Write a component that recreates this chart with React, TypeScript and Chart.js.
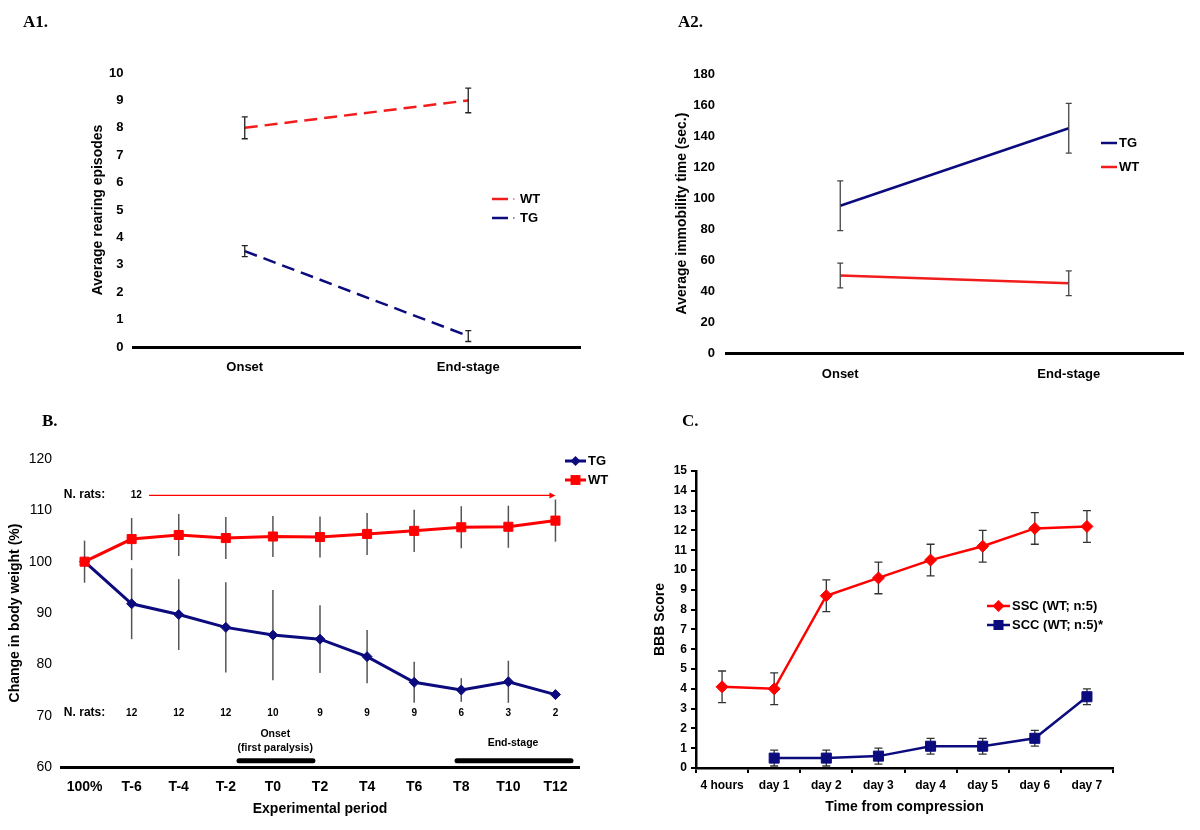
import React, { useEffect, useRef } from 'react';
import { Chart, registerables } from 'chart.js';

Chart.register(...registerables);

const FONT = "'Liberation Sans', Arial, Helvetica, sans-serif";
Chart.defaults.font.family = FONT;
Chart.defaults.color = '#000';

// ---------------- Data ----------------
// A1: rearing episodes
const a1Categories = ['Onset', 'End-stage'];
const a1WT = [8, 9];
const a1WTErr = [0.4, 0.45];
const a1TG = [3.5, 0.4];
const a1TGErr = [0.2, 0.2];

// A2: immobility time
const a2Categories = ['Onset', 'End-stage'];
const a2TG = [95, 145];
const a2TGErr = [16, 16];
const a2WT = [50, 45];
const a2WTErr = [8, 8];

// B: body weight
const bCategories = ['100%', 'T-6', 'T-4', 'T-2', 'T0', 'T2', 'T4', 'T6', 'T8', 'T10', 'T12'];
const bTG = [100, 91.8, 89.7, 87.2, 85.7, 84.9, 81.5, 76.5, 75.0, 76.6, 74.1];
const bTGErr = [0, 6.9, 6.9, 8.8, 8.8, 6.6, 5.2, 4.0, 2.3, 4.1, 0];
const bWT = [100, 104.4, 105.2, 104.6, 104.9, 104.8, 105.4, 106.0, 106.7, 106.8, 108.0];
const bWTErr = [4.1, 4.1, 4.1, 4.1, 4.0, 4.0, 4.1, 4.1, 4.1, 4.1, 4.1];
const bNRatsTG = [12, 12, 12, 10, 9, 9, 9, 6, 3, 2];
const bNRatsWT = 12;

// C: BBB score
const cCategories = ['4 hours', 'day 1', 'day 2', 'day 3', 'day 4', 'day 5', 'day 6', 'day 7'];
const cSSC = [4.1, 4.0, 8.7, 9.6, 10.5, 11.2, 12.1, 12.2];
const cSSCErr = [0.8, 0.8, 0.8, 0.8, 0.8, 0.8, 0.8, 0.8];
const cSCC = [null, 0.5, 0.5, 0.6, 1.1, 1.1, 1.5, 3.6];
const cSCCErr = [null, 0.4, 0.4, 0.4, 0.4, 0.4, 0.4, 0.4];

// ---------------- Styles ----------------
const RED = '#ff0000';
const A_RED = '#f21c1c';
const NAVY = '#0b0b7e';

// ---------------- Plugins ----------------
type ErrStyle = { color: string; width: number; cap: number; before: boolean };
function errorBars(errs: (number | null)[][], st: ErrStyle) {
  const draw = (chart: any) => {
    const ctx = chart.ctx;
    const ys = chart.scales.y;
    ctx.save();
    ctx.strokeStyle = st.color;
    ctx.lineWidth = st.width;
    chart.data.datasets.forEach((ds: any, di: number) => {
      const e = errs[di];
      if (!e) return;
      const meta = chart.getDatasetMeta(di);
      meta.data.forEach((pt: any, i: number) => {
        const v = ds.data[i];
        const err = e[i];
        if (v == null || !err) return;
        const x = pt.x;
        const y1 = ys.getPixelForValue(v - err);
        const y2 = ys.getPixelForValue(v + err);
        ctx.beginPath();
        ctx.moveTo(x, y1);
        ctx.lineTo(x, y2);
        if (st.cap) {
          ctx.moveTo(x - st.cap, y1);
          ctx.lineTo(x + st.cap, y1);
          ctx.moveTo(x - st.cap, y2);
          ctx.lineTo(x + st.cap, y2);
        }
        ctx.stroke();
      });
    });
    ctx.restore();
  };
  const p: any = { id: 'errorBars' };
  if (st.before) p.beforeDatasetsDraw = draw;
  else p.afterDatasetsDraw = draw;
  return p;
}

function drawMarker(ctx: CanvasRenderingContext2D, style: string, x: number, y: number, r: number, color: string) {
  ctx.fillStyle = color;
  ctx.beginPath();
  if (style === 'rectRot') {
    ctx.moveTo(x - r, y);
    ctx.lineTo(x, y - r);
    ctx.lineTo(x + r, y);
    ctx.lineTo(x, y + r);
    ctx.closePath();
  } else {
    const s = r * Math.SQRT1_2;
    ctx.rect(x - s, y - s, 2 * s, 2 * s);
  }
  ctx.fill();
}

type LegItem = { ds: number; x1: number; x2: number; tx: number; y: number; dot?: boolean; markerR?: number };
function customLegend(items: LegItem[], font: string) {
  return {
    id: 'customLegend',
    afterDraw(chart: any) {
      const ctx = chart.ctx as CanvasRenderingContext2D;
      items.forEach((it) => {
        const ds = chart.data.datasets[it.ds];
        ctx.save();
        ctx.strokeStyle = ds.borderColor;
        ctx.lineWidth = ds.borderWidth;
        ctx.beginPath();
        ctx.moveTo(it.x1, it.y);
        ctx.lineTo(it.x2, it.y);
        ctx.stroke();
        if (it.dot) {
          ctx.lineWidth = 1;
          ctx.beginPath();
          ctx.moveTo(it.x2 + 5, it.y);
          ctx.lineTo(it.x2 + 6.5, it.y);
          ctx.stroke();
        }
        if (it.markerR) drawMarker(ctx, ds.pointStyle, (it.x1 + it.x2) / 2, it.y, it.markerR, ds.borderColor);
        ctx.fillStyle = '#000';
        ctx.font = font;
        ctx.textAlign = 'left';
        ctx.textBaseline = 'middle';
        ctx.fillText(ds.label, it.tx, it.y);
        ctx.restore();
      });
    },
  };
}

const bAnnotations = {
  id: 'bAnnotations',
  afterDraw(chart: any) {
    const ctx = chart.ctx as CanvasRenderingContext2D;
    const xs = chart.scales.x;
    const ys = chart.scales.y;
    const X = (v: number) => xs.getPixelForValue(v);
    const Y = (v: number) => ys.getPixelForValue(v);
    ctx.save();
    ctx.fillStyle = '#000';
    ctx.textAlign = 'center';
    ctx.textBaseline = 'middle';
    ctx.font = `bold 12px ${FONT}`;
    ctx.fillText('N. rats:', X(0), Y(113));
    ctx.fillText('N. rats:', X(0), Y(70.5));
    ctx.font = `bold 10px ${FONT}`;
    ctx.fillText(String(bNRatsWT), X(1.1), Y(113));
    bNRatsTG.forEach((n, i) => ctx.fillText(String(n), X(i + 1), Y(70.5)));

    // red arrow for WT count
    const ay = Y(112.9);
    const ax1 = X(1.37);
    const ax2 = X(10);
    ctx.strokeStyle = RED;
    ctx.fillStyle = RED;
    ctx.lineWidth = 1.3;
    ctx.beginPath();
    ctx.moveTo(ax1, ay);
    ctx.lineTo(ax2 - 4, ay);
    ctx.stroke();
    ctx.beginPath();
    ctx.moveTo(ax2, ay);
    ctx.lineTo(ax2 - 6, ay - 3);
    ctx.lineTo(ax2 - 6, ay + 3);
    ctx.closePath();
    ctx.fill();

    // period bars
    ctx.strokeStyle = '#000';
    ctx.lineWidth = 5;
    ctx.lineCap = 'round';
    const by = Y(61.2);
    ctx.beginPath();
    ctx.moveTo(X(3.28), by);
    ctx.lineTo(X(4.85), by);
    ctx.moveTo(X(7.91), by);
    ctx.lineTo(X(10.33), by);
    ctx.stroke();

    ctx.fillStyle = '#000';
    ctx.font = `bold 10.5px ${FONT}`;
    ctx.fillText('Onset', X(4.05), Y(66.4));
    ctx.fillText('(first paralysis)', X(4.05), Y(63.7));
    ctx.fillText('End-stage', X(9.1), Y(64.7));
    ctx.restore();
  },
};

// ---------------- Configs ----------------
const noGrid = { display: false, drawTicks: false };

function configA1(): any {
  return {
    type: 'line',
    data: {
      labels: a1Categories,
      datasets: [
        { label: 'WT', data: a1WT, borderColor: A_RED, borderWidth: 2.5, borderDash: [13, 7], pointRadius: 0 },
        { label: 'TG', data: a1TG, borderColor: NAVY, borderWidth: 2.5, borderDash: [13, 7], pointRadius: 0 },
      ],
    },
    options: {
      responsive: false,
      animation: false,
      layout: { padding: { left: 0, right: 20, top: 73, bottom: 0 } },
      plugins: { legend: { display: false }, tooltip: { enabled: false } },
      scales: {
        x: {
          offset: true,
          grid: noGrid,
          border: { display: true, color: '#000', width: 3 },
          ticks: { padding: 12.2, font: { size: 13, weight: 'bold' }, color: '#000' },
          afterFit: (s: any) => { s.height = 53; },
        },
        y: {
          min: 0,
          max: 10,
          ticks: { stepSize: 1, padding: 9.5, font: { size: 13, weight: 'bold' }, color: '#000' },
          grid: noGrid,
          border: { display: false },
          title: { display: true, text: 'Average rearing episodes', color: '#000', font: { size: 14, weight: 'bold' }, padding: { top: 89.6, bottom: 0 } },
          afterFit: (s: any) => { s.width = 133; },
        },
      },
    },
    plugins: [
      errorBars([a1WTErr, a1TGErr], { color: '#222', width: 1.3, cap: 3, before: false }),
      customLegend(
        [
          { ds: 0, x1: 492, x2: 508, tx: 520, y: 199, dot: true },
          { ds: 1, x1: 492, x2: 508, tx: 520, y: 218, dot: true },
        ],
        `bold 13px ${FONT}`
      ),
    ],
  };
}

function configA2(): any {
  return {
    type: 'line',
    data: {
      labels: a2Categories,
      datasets: [
        { label: 'TG', data: a2TG, borderColor: NAVY, borderWidth: 2.5, pointRadius: 0 },
        { label: 'WT', data: a2WT, borderColor: A_RED, borderWidth: 2.5, pointRadius: 0 },
      ],
    },
    options: {
      responsive: false,
      animation: false,
      layout: { padding: { left: 0, right: 17, top: 74, bottom: 0 } },
      plugins: { legend: { display: false }, tooltip: { enabled: false } },
      scales: {
        x: {
          offset: true,
          grid: noGrid,
          border: { display: true, color: '#000', width: 3 },
          ticks: { padding: 13.2, font: { size: 13, weight: 'bold' }, color: '#000' },
          afterFit: (s: any) => { s.height = 47; },
        },
        y: {
          min: 0,
          max: 180,
          ticks: { stepSize: 20, padding: 11, font: { size: 13, weight: 'bold' }, color: '#000' },
          grid: noGrid,
          border: { display: false },
          title: { display: true, text: 'Average immobility time (sec.)', color: '#000', font: { size: 14, weight: 'bold' }, padding: { top: 73.6, bottom: 0 } },
          afterFit: (s: any) => { s.width = 126; },
        },
      },
    },
    plugins: [
      errorBars([a2TGErr, a2WTErr], { color: '#444', width: 1.3, cap: 3, before: false }),
      customLegend(
        [
          { ds: 0, x1: 501, x2: 517, tx: 519, y: 143 },
          { ds: 1, x1: 501, x2: 517, tx: 519, y: 167 },
        ],
        `bold 13px ${FONT}`
      ),
    ],
  };
}

function configB(): any {
  return {
    type: 'line',
    data: {
      labels: bCategories,
      datasets: [
        {
          label: 'WT', data: bWT, borderColor: RED, backgroundColor: RED, borderWidth: 3,
          pointStyle: 'rect', pointRadius: 6.4, pointBorderWidth: 1, pointBackgroundColor: RED, pointBorderColor: RED,
        },
        {
          label: 'TG', data: bTG, borderColor: NAVY, backgroundColor: NAVY, borderWidth: 3,
          pointStyle: 'rectRot', pointRadius: 5, pointBorderWidth: 1, pointBackgroundColor: NAVY, pointBorderColor: NAVY,
        },
      ],
    },
    options: {
      responsive: false,
      animation: false,
      layout: { padding: { left: 0, right: 61, top: 59, bottom: 0 } },
      plugins: { legend: { display: false }, tooltip: { enabled: false } },
      scales: {
        x: {
          offset: true,
          grid: noGrid,
          border: { display: true, color: '#000', width: 3 },
          ticks: { padding: 11.6, font: { size: 14, weight: 'bold' }, color: '#000' },
          title: { display: true, text: 'Experimental period', color: '#000', font: { size: 14, weight: 'bold' }, padding: { top: 0, bottom: 12.6 } },
          afterFit: (s: any) => { s.height = 63; },
        },
        y: {
          min: 60,
          max: 120,
          ticks: { stepSize: 10, padding: 9, font: { size: 14 }, color: '#000' },
          grid: noGrid,
          border: { display: false },
          title: { display: true, text: 'Change in body weight (%)', color: '#000', font: { size: 14, weight: 'bold' }, padding: { top: 6.6, bottom: 0 } },
          afterFit: (s: any) => { s.width = 61; },
        },
      },
    },
    plugins: [
      errorBars([bWTErr, bTGErr], { color: '#555', width: 1.5, cap: 0, before: true }),
      bAnnotations,
      customLegend(
        [
          { ds: 1, x1: 565, x2: 586, tx: 588, y: 61, markerR: 5 },
          { ds: 0, x1: 565, x2: 586, tx: 588, y: 80, markerR: 7 },
        ],
        `bold 13px ${FONT}`
      ),
    ],
  };
}

function configC(): any {
  const tickGrid = { display: true, drawOnChartArea: false, drawTicks: true, tickLength: 5, color: '#000', lineWidth: 2 };
  return {
    type: 'line',
    data: {
      labels: cCategories,
      datasets: [
        {
          label: 'SSC (WT; n:5)', data: cSSC, borderColor: RED, backgroundColor: RED, borderWidth: 2.5,
          pointStyle: 'rectRot', pointRadius: 6, pointBorderWidth: 1, pointBackgroundColor: RED, pointBorderColor: RED,
        },
        {
          label: 'SCC (WT; n:5)*', data: cSCC, borderColor: NAVY, backgroundColor: NAVY, borderWidth: 2.5,
          pointStyle: 'rect', pointRadius: 7.1, pointBorderWidth: 1, pointBackgroundColor: NAVY, pointBorderColor: NAVY,
        },
      ],
    },
    options: {
      responsive: false,
      animation: false,
      layout: { padding: { left: 0, right: 87, top: 71, bottom: 0 } },
      plugins: { legend: { display: false }, tooltip: { enabled: false } },
      scales: {
        x: {
          offset: true,
          grid: { ...tickGrid, offset: true },
          border: { display: true, color: '#000', width: 2.5 },
          ticks: { padding: 5.8, font: { size: 12, weight: 'bold' }, color: '#000' },
          title: { display: true, text: 'Time from compression', color: '#000', font: { size: 14, weight: 'bold' }, padding: { top: 0, bottom: 14.6 } },
          afterFit: (s: any) => { s.height = 62; },
        },
        y: {
          min: 0,
          max: 15,
          ticks: { stepSize: 1, padding: 4, font: { size: 12, weight: 'bold' }, color: '#000' },
          grid: tickGrid,
          border: { display: true, color: '#000', width: 2.5 },
          title: { display: true, text: 'BBB Score', color: '#000', font: { size: 14, weight: 'bold' }, padding: { top: 51.6, bottom: 0 } },
          afterFit: (s: any) => { s.width = 96; },
        },
      },
    },
    plugins: [
      errorBars([cSSCErr, cSCCErr], { color: '#333', width: 1.3, cap: 4, before: true }),
      customLegend(
        [
          { ds: 0, x1: 387, x2: 410, tx: 412, y: 206, markerR: 6 },
          { ds: 1, x1: 387, x2: 410, tx: 412, y: 225, markerR: 7.1 },
        ],
        `bold 13px ${FONT}`
      ),
    ],
  };
}

// ---------------- Components ----------------
function ChartCanvas(props: { make: () => any; left: number; top: number; width: number; height: number }) {
  const ref = useRef<HTMLCanvasElement | null>(null);
  useEffect(() => {
    const chart = new Chart(ref.current as HTMLCanvasElement, props.make());
    return () => chart.destroy();
  }, []);
  return (
    <canvas
      ref={ref}
      width={props.width}
      height={props.height}
      style={{ position: 'absolute', left: props.left, top: props.top, width: props.width, height: props.height }}
    />
  );
}

function PanelLabel(props: { text: string; left: number; top: number }) {
  return (
    <div
      style={{
        position: 'absolute',
        left: props.left,
        top: props.top,
        fontFamily: "'Liberation Serif', 'Times New Roman', serif",
        fontWeight: 'bold',
        fontSize: 17,
        lineHeight: '20px',
        color: '#000',
        whiteSpace: 'nowrap',
      }}
    >
      {props.text}
    </div>
  );
}

export default function App() {
  return (
    <div style={{ position: 'absolute', left: 0, top: 0, width: 1200, height: 830, background: '#fff', overflow: 'hidden' }}>
      <ChartCanvas make={configA1} left={0} top={0} width={600} height={400} />
      <ChartCanvas make={configA2} left={600} top={0} width={600} height={400} />
      <ChartCanvas make={configC} left={600} top={400} width={600} height={430} />
      <ChartCanvas make={configB} left={0} top={400} width={640} height={430} />
      <PanelLabel text="A1." left={23} top={12} />
      <PanelLabel text="A2." left={678} top={12} />
      <PanelLabel text="B." left={42} top={411} />
      <PanelLabel text="C." left={682} top={411} />
    </div>
  );
}
